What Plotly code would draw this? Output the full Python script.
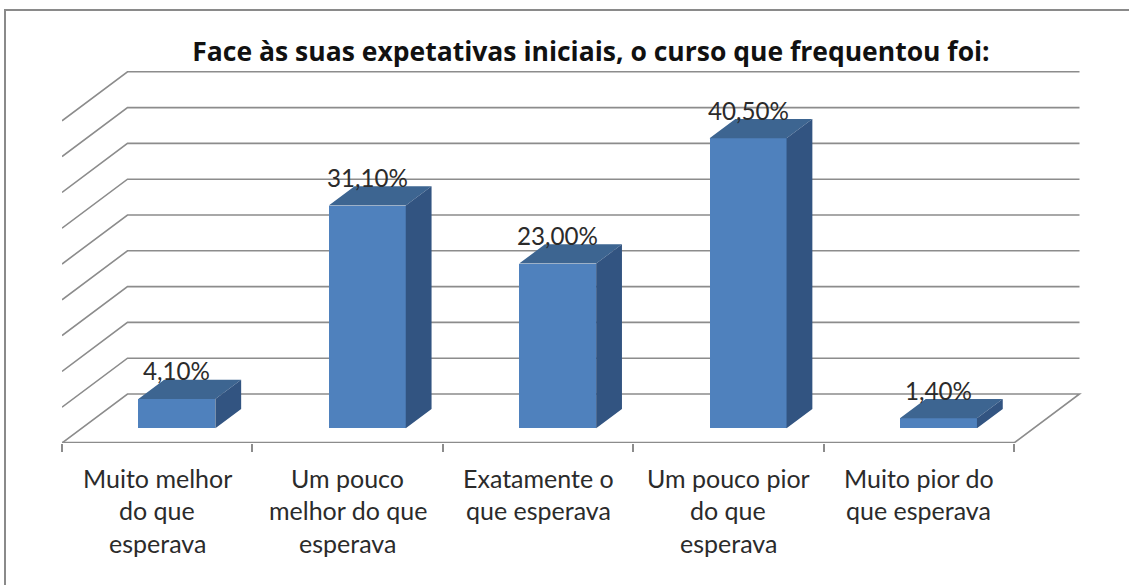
import plotly.graph_objects as go

# ---- data ----
category_lines = [
    ["Muito melhor", "do que", "esperava"],
    ["Um pouco", "melhor do que", "esperava"],
    ["Exatamente o", "que esperava"],
    ["Um pouco pior", "do que", "esperava"],
    ["Muito pior do", "que esperava"],
]
values = [4.1, 31.1, 23.0, 40.5, 1.4]
value_labels = ["4,10%", "31,10%", "23,00%", "40,50%", "1,40%"]
grid_values = [0, 5, 10, 15, 20, 25, 30, 35, 40, 45]
title_text = "Face às suas expetativas iniciais, o curso que frequentou foi:"

# ---- layout constants ----
W, H = 1129, 585
LEFT, FLOOR = 62, 443
PX_PER_CAT, PX_PER_PCT = 190.4, 7.16
DEPTH_X = 65.5 / PX_PER_CAT      # full floor depth, in axis units
DEPTH_Y = 49 / PX_PER_PCT
BAR_D0, BAR_D = 0.30, 0.394      # bar front position and bar depth, fraction of floor depth
BAR_W = 77 / PX_PER_CAT
GRID = "#8c8c8c"
INK = "#2b2b2b"
FONT = "Lato, Carlito, sans-serif"

n = len(values)
idx = list(range(n))
bar_x = [i + 0.5 + BAR_D0 * DEPTH_X for i in idx]
bar_base = BAR_D0 * DEPTH_Y
dx, dy = BAR_D * DEPTH_X, BAR_D * DEPTH_Y

fig = go.Figure()

# front faces
fig.add_trace(go.Bar(
    x=bar_x, y=values, base=[bar_base] * n, width=BAR_W,
    marker=dict(color="#4f81bd", line=dict(width=0)),
    hoverinfo="skip", showlegend=False,
))

# top and side faces, derived from the values
top_x, top_y, side_x, side_y = [], [], [], []
for cx, v in zip(bar_x, values):
    l, r = cx - BAR_W / 2, cx + BAR_W / 2
    t = bar_base + v
    top_x += [l, r, r + dx, l + dx, l, None]
    top_y += [t, t, t + dy, t + dy, t, None]
    side_x += [r, r + dx, r + dx, r, r, None]
    side_y += [bar_base, bar_base + dy, t + dy, t, bar_base, None]
fig.add_trace(go.Scatter(x=top_x, y=top_y, mode="lines", fill="toself", fillcolor="#3d6591",
                         line=dict(width=0, color="#3d6591"), hoverinfo="skip", showlegend=False))
fig.add_trace(go.Scatter(x=side_x, y=side_y, mode="lines", fill="toself", fillcolor="#325481",
                         line=dict(width=0, color="#325481"), hoverinfo="skip", showlegend=False))

# gridlines on the back wall with their diagonal on the left wall
shapes = []
for g in grid_values:
    path = f"M 0 {g} L {DEPTH_X} {g + DEPTH_Y} L {n + DEPTH_X} {g + DEPTH_Y}"
    if g == 0:
        path += f" L {n} 0"
    shapes.append(dict(type="path", path=path, xref="x", yref="y", layer="below",
                       line=dict(color=GRID, width=1.6)))

# chart frame (top and left edges)
fx = (5 - LEFT) / (W - LEFT)
fy = 1 - (10 / FLOOR)
shapes.append(dict(type="path", xref="paper", yref="paper", layer="below",
                   path=f"M {fx} {(FLOOR - H) / FLOOR} L {fx} {fy} L 1 {fy}",
                   line=dict(color="#8a8a8a", width=2)))

annotations = []
# value labels
for cx, v, lab in zip(bar_x, values, value_labels):
    annotations.append(dict(x=cx, y=bar_base + v, xref="x", yref="y", text=lab, showarrow=False,
                            yshift=28, yanchor="middle", xanchor="center",
                            font=dict(family=FONT, size=24.2, color=INK)))
# category labels, one annotation per line to get the wide line spacing
for i, lines in enumerate(category_lines):
    for k, line in enumerate(lines):
        annotations.append(dict(x=i + 0.5, y=0, xref="x", yref="paper", text=line, showarrow=False,
                                yshift=-(34.5 + 32.5 * k), yanchor="middle", xanchor="center",
                                font=dict(family=FONT, size=25, color=INK)))

fig.update_layout(
    width=W, height=H,
    margin=dict(l=LEFT, r=0, t=0, b=H - FLOOR, pad=0, autoexpand=False),
    paper_bgcolor="white", plot_bgcolor="white",
    title=dict(text=title_text, x=591 / W, y=1 - 52 / H, xref="container", yref="container",
               xanchor="center", yanchor="middle",
               font=dict(family="Open Sans, sans-serif", size=26.5, color="#111111", weight="bold")),
    xaxis=dict(range=[0, (W - LEFT) / PX_PER_CAT], showgrid=False, zeroline=False,
               showline=False, ticks="", showticklabels=False,
               tickvals=list(range(n + 1)), fixedrange=True),
    yaxis=dict(range=[0, FLOOR / PX_PER_PCT], visible=False, fixedrange=True),
    shapes=shapes, annotations=annotations, bargap=0,
)

# floor front edge and category ticks, carried by the axis
fig.update_xaxes(
    ticks="outside", ticklen=8, tickwidth=1.6, tickcolor=GRID,
)
fig.add_trace(go.Scatter(x=[0, n], y=[0, 0], mode="lines", line=dict(color=GRID, width=2.5),
                         cliponaxis=False, hoverinfo="skip", showlegend=False))

fig.write_html("out.html", config=dict(displayModeBar=False),
               post_script="document.body.style.margin='0';document.documentElement.style.overflow='hidden';")
